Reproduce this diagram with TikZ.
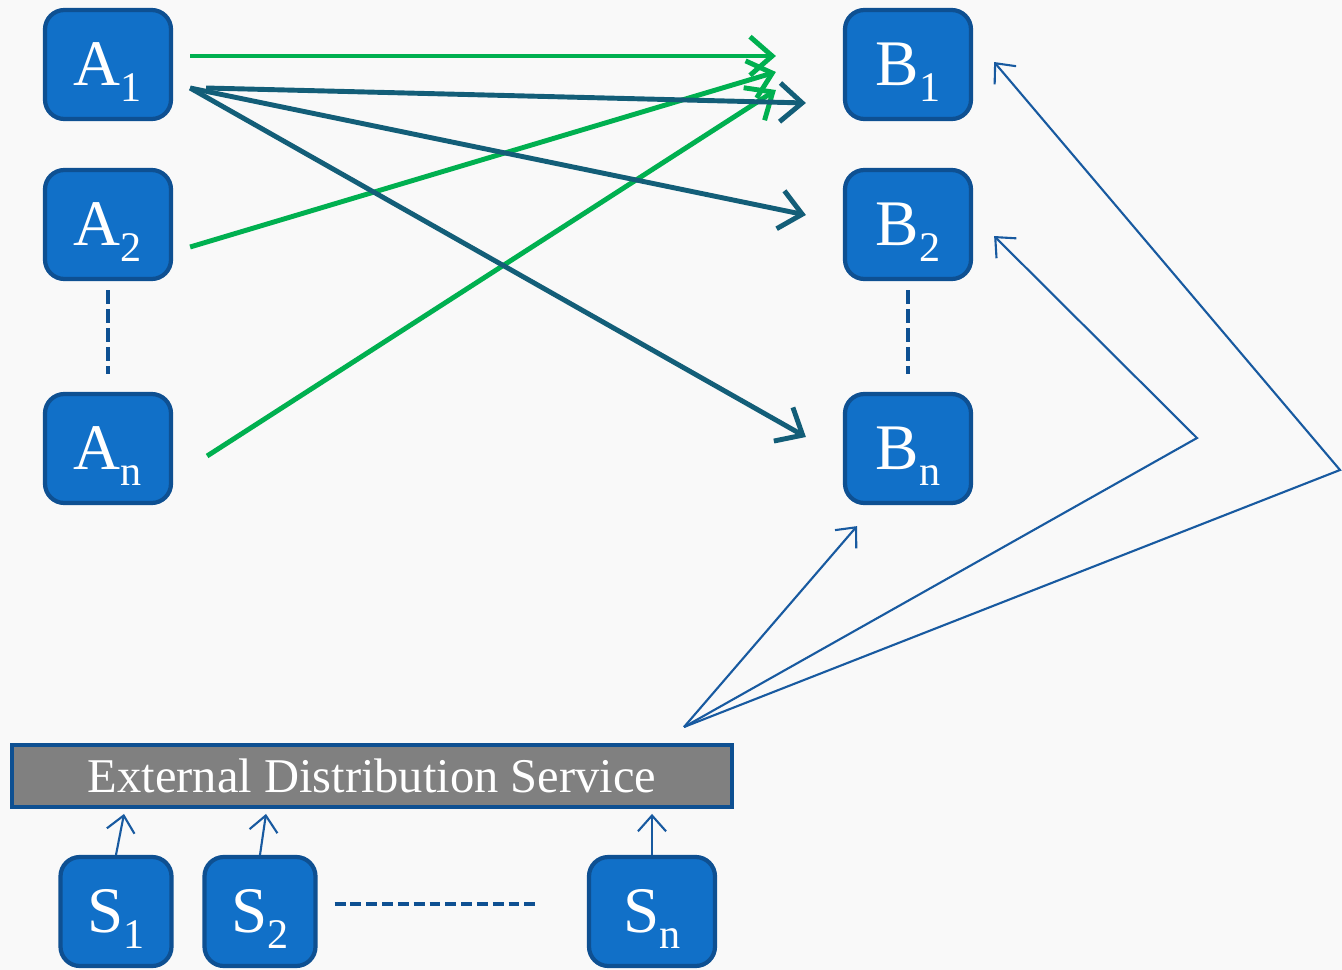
\documentclass[tikz,border=0pt]{standalone}
\usepackage{fontspec}
\setmainfont{Liberation Serif}
\usepackage{tikz}
\usetikzlibrary{calc,arrows.meta,backgrounds}

\definecolor{boxfill}{RGB}{17,112,200}
\definecolor{boxline}{RGB}{14,80,146}
\definecolor{sendgreen}{RGB}{0,176,80}
\definecolor{sendteal}{RGB}{19,94,120}
\definecolor{distblue}{RGB}{24,90,160}
\definecolor{paper}{RGB}{249,249,249}

\newcommand{\boxlabel}[2]{#1\smash{\raisebox{-4.5pt}{\fontsize{12}{12}\selectfont #2}}}

\tikzset{
  proc/.style={draw=boxline,fill=boxfill,line width=1.2pt,rounded corners=5.5pt,
    minimum width=1.26cm,minimum height=1.09cm,inner sep=0pt,
    text=white,font=\fontsize{18.5}{20}\selectfont},
  src/.style={proc,minimum width=1.11cm},
  greenarrow/.style={sendgreen,line width=1.4pt,-{Straight Barb[length=6.3pt,width=11pt]}},
  tealarrow/.style={sendteal,line width=1.4pt,-{Straight Barb[length=6.3pt,width=11pt]}},
  distarrow/.style={distblue,line width=0.6pt,-{Straight Barb[length=4.5pt,width=8pt]}},
  dots/.style={boxline,line width=1.2pt}
}

\begin{document}
\begin{tikzpicture}
            \fill[paper] (0,0) rectangle (13.42,-9.70);
            \useasboundingbox (0,0) rectangle (13.42,-9.70);

            \node[proc] (A1) at (1.08,-0.645) {\boxlabel{A}{1}};
            \node[proc] (A2) at (1.08,-2.245) {\boxlabel{A}{2}};
            \node[proc] (An) at (1.08,-4.485) {\boxlabel{A}{n}};
            \node[proc] (B1) at (9.08,-0.645) {\boxlabel{B}{1}};
            \node[proc] (B2) at (9.08,-2.245) {\boxlabel{B}{2}};
            \node[proc] (Bn) at (9.08,-4.485) {\boxlabel{B}{n}};

            \node[draw=boxline,fill=gray,line width=1.1pt,minimum width=7.20cm,minimum height=0.62cm,
              inner sep=0pt,text=white,font=\fontsize{13.8}{14}\selectfont] (ext) at (3.72,-7.76) {External Distribution Service};

            \node[src] (S1) at (1.16,-9.115) {\boxlabel{S}{1}};
            \node[src] (S2) at (2.60,-9.115) {\boxlabel{S}{2}};
            \node[proc] (Sn) at (6.52,-9.115) {\boxlabel{S}{n}};

            % the unknown ones in between
            \draw[dots,dash pattern=on 4pt off 1.4pt,shorten <=0.09cm,shorten >=0.18cm] (A2.south) -- (An.north);
            \draw[dots,dash pattern=on 4pt off 1.4pt,shorten <=0.09cm,shorten >=0.18cm] (B2.south) -- (Bn.north);
            \draw[dots,dash pattern=on 3.1pt off 1.4pt] ($(S2.east)+(0.17,0.075)$) -- ($(Sn.west)+(-0.47,0.075)$);

            \draw[greenarrow] ($(A1.east)+(0.17,0.085)$) -- ($(B1.west)+(-0.67,0.085)$);
            \draw[greenarrow] ($(A2.east)+(0.17,-0.225)$) -- ($(B1.west)+(-0.67,-0.075)$);
            \draw[greenarrow] ($(An.east)+(0.34,-0.075)$) -- ($(B1.west)+(-0.67,-0.255)$);

            \draw[tealarrow] ($(A1.east)+(0.33,-0.235)$) -- ($(B1.west)+(-0.37,-0.385)$);
            \draw[tealarrow] ($(A1.east)+(0.17,-0.235)$) -- ($(B2.west)+(-0.37,0.095)$);
            \draw[tealarrow] ($(A1.east)+(0.17,-0.235)$) -- ($(Bn.west)+(-0.37,0.115)$);

            \coordinate (hub) at (6.84,-7.27);
            \coordinate (bendB2) at (11.97,-4.38);
            \coordinate (bendB1) at (13.40,-4.70);
            \draw[distarrow] (hub) -- ($(Bn.south)+(-0.51,-0.21)$);
            \draw[distarrow] (hub) -- (bendB2) -- ($(B2.east)+(0.21,-0.115)$);
            \draw[distarrow] (hub) -- (bendB1) -- ($(B1.east)+(0.21,0.025)$);

            \draw[distarrow] (S1.north) -- ($(S1.north |- ext.south)+(0.08,-0.05)$);
            \draw[distarrow] (S2.north) -- ($(S2.north |- ext.south)+(0.06,-0.05)$);
            \draw[distarrow] (Sn.north) -- ($(Sn.north |- ext.south)+(0,-0.05)$);
\end{tikzpicture}
\end{document}
